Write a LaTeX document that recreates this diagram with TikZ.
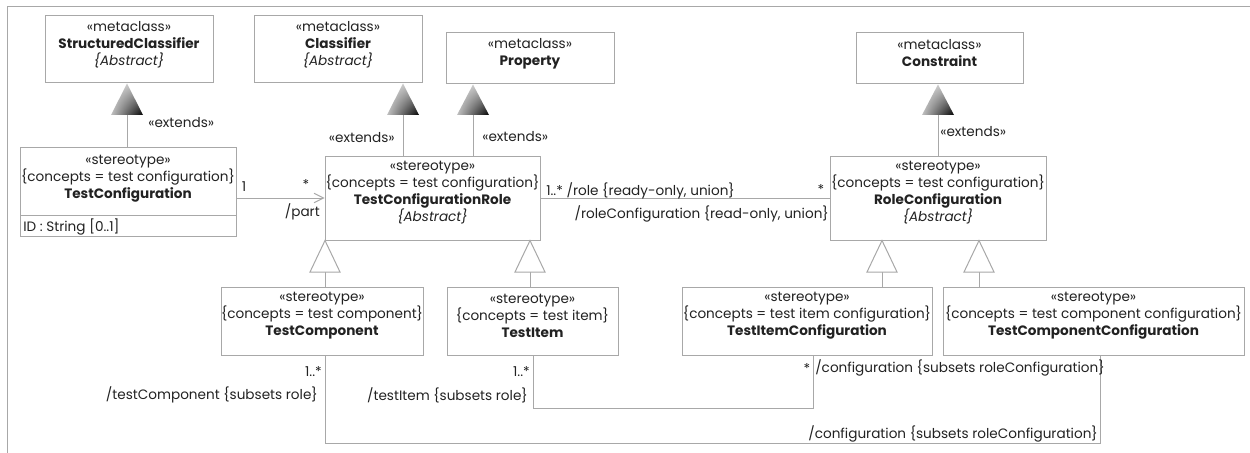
\documentclass[tikz,border=0pt]{standalone}
\usepackage{fontspec}
\setmainfont{Poppins}
\usetikzlibrary{arrows.meta,fit,calc,shadings}
\definecolor{ln}{HTML}{A8A8A8}
\definecolor{tx}{HTML}{222222}
\begin{document}
\begin{tikzpicture}[x=0.75pt,y=-0.75pt,
  font=\fontsize{10.2}{12.75}\selectfont,
  box/.style={draw=ln, fill=white, line width=0.75pt, inner sep=0pt},
  txt/.style={text=tx, align=center, inner sep=0pt},
  lbl/.style={text=tx, inner sep=0pt},
  conn/.style={draw=ln, line width=0.75pt},
  gen/.style={draw=ln, fill=white, line width=0.75pt},
  ext/.style={upper left=gray!25, upper right=gray!55, lower left=gray!50, lower right=black}]
\useasboundingbox (0,0) rectangle (1250,453);
\draw[ln, line width=0.75pt] (7,453) -- (7,7) -- (1250,7);

% metaclasses
\node[box, fit={(45,16) (213,83)}] (sc) {};
\node[txt] (sc-t) at ($(sc.center)+(0,-5)$) {«metaclass»\\\textbf{StructuredClassifier}\\\textit{\{Abstract\}}};
\node[box, fit={(254,16) (422,83)}] (cl) {};
\node[txt] (cl-t) at ($(cl.center)+(0,-5)$) {«metaclass»\\\textbf{Classifier}\\\textit{\{Abstract\}}};
\node[box, fit={(446,33) (614,84)}] (pr) {};
\node[txt] (pr-t) at ($(pr.center)+(0,-5)$) {«metaclass»\\\textbf{Property}};
\node[box, fit={(856,33) (1023,84)}] (co) {};
\node[txt] (co-t) at ($(co.center)+(0,-5)$) {«metaclass»\\\textbf{Constraint}};

% stereotypes
\node[box, fit={(20,147) (236,236)}] (tc) {};
\draw[conn] (20,215) -- (236,215);
\node[txt] (tc-t) at (128,179) {«stereotype»\\\{concepts = test configuration\}\\\textbf{TestConfiguration}};
\node[lbl, anchor=west] (tc-a) at (23,227) {ID : String [0..1]};

\node[box, fit={(325,156) (540,240)}] (tcr) {};
\node[txt] (tcr-t) at ($(tcr.center)+(0,-5)$) {«stereotype»\\\{concepts = test configuration\}\\\textbf{TestConfigurationRole}\\\textit{\{Abstract\}}};
\node[box, fit={(830,156) (1046,240)}] (rc) {};
\node[txt] (rc-t) at ($(rc.center)+(0,-5)$) {«stereotype»\\\{concepts = test configuration\}\\\textbf{RoleConfiguration}\\\textit{\{Abstract\}}};

\node[box, fit={(221,287) (423,355)}] (tcomp) {};
\node[txt] (tcomp-t) at ($(tcomp.center)+(0,-5)$) {«stereotype»\\\{concepts = test component\}\\\textbf{TestComponent}};
\node[box, fit={(447,287) (618,355)}] (ti) {};
\node[txt] (ti-t) at ($(ti.center)+(0,-5)$) {«stereotype»\\\{concepts = test item\}\\\textbf{TestItem}};
\node[box, fit={(682,287) (932,355)}] (tic) {};
\node[txt] (tic-t) at ($(tic.center)+(0,-5)$) {«stereotype»\\\{concepts = test item configuration\}\\\textbf{TestItemConfiguration}};
\node[box, fit={(943,287) (1244,355)}] (tcc) {};
\node[txt] (tcc-t) at ($(tcc.center)+(0,-5)$) {«stereotype»\\\{concepts = test component configuration\}\\\textbf{TestComponentConfiguration}};

% extensions
\coordinate (x1) at (127,115);
\coordinate (x2) at (403,115);
\coordinate (x3) at (473,115);
\coordinate (x4) at (938,115);
\foreach \c/\s/\t in {x1/sc/tc, x2/cl/tcr, x3/pr/tcr, x4/co/rc}{
  \draw[conn] (\c) -- (\c |- \t.north);
  \shade[ext] (\c |- \s.south) -- ($(\c)+(16,0)$) -- ($(\c)+(-16,0)$) -- cycle;
}
\node[lbl, anchor=west] (e1) at (148,123) {«extends»};
\node[lbl, anchor=east] (e2) at (395,138) {«extends»};
\node[lbl, anchor=west] (e3) at (482,137) {«extends»};
\node[lbl, anchor=west] (e4) at (940,132) {«extends»};

% generalizations
\coordinate (g1) at (325,272);
\coordinate (g2) at (530,272);
\coordinate (g3) at (882,272);
\coordinate (g4) at (979,272);
\foreach \c/\p/\ch in {g1/tcr/tcomp, g2/tcr/ti, g3/rc/tic, g4/rc/tcc}{
  \draw[conn] (\c) -- (\c |- \ch.north);
  \draw[gen] (\c |- \p.south) -- ($(\c)+(15,0)$) -- ($(\c)+(-15,0)$) -- cycle;
}

% associations
\draw[conn, -{Straight Barb[length=7pt,width=7pt]}] (tc.east |- 0,198) -- (tcr.west |- 0,198);
\node[lbl] (m1) at (244,187) {1};
\node[lbl] (m2) at (306,185) {*};
\node[lbl, anchor=east] (m3) at (320,212) {/part};

\draw[conn] (tcr.east |- 0,198) -- (rc.west |- 0,198);
\node[lbl, anchor=west] (m4) at (546,191) {1..* /role \{ready-only, union\}};
\node[lbl] (m5) at (821,190) {*};
\node[lbl, anchor=east] (m6) at (829,214) {/roleConfiguration \{read-only, union\}};

\coordinate (c1) at (325,443);
\coordinate (c2) at (1100,443);
\draw[conn] (tcomp.south -| c1) -- (c1) -- (c2) -- (tcc.south -| c2);
\coordinate (d1) at (533,408);
\coordinate (d2) at (813,408);
\draw[conn] (ti.south -| d1) -- (d1) -- (d2) -- (tic.south -| d2);

\node[lbl, anchor=east] (m7) at (322,372) {1..*};
\node[lbl, anchor=east] (m8) at (318,395) {/testComponent \{subsets role\}};
\node[lbl, anchor=east] (m9) at (530,372) {1..*};
\node[lbl, anchor=east] (m10) at (528,395) {/testItem \{subsets role\}};
\node[lbl] (m11) at (807,369) {*};
\node[lbl, anchor=west] (m12) at (815,368) {/configuration \{subsets roleConfiguration\}};
\node[lbl, anchor=east] (m13) at (1098,434) {/configuration \{subsets roleConfiguration\}};
\end{tikzpicture}
\end{document}
